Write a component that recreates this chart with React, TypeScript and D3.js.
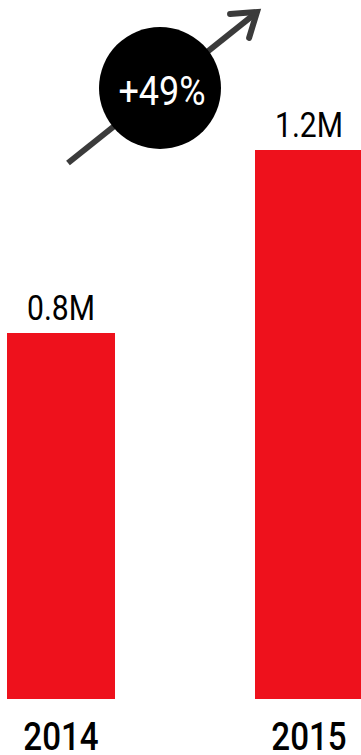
import React from "react";
import * as d3 from "d3";

const years = ["2014", "2015"];
const values = [0.8, 1.2];
const growthLabel = "+49%";

const W = 361;
const H = 755;

function CText(props: {
  x: number;
  y: number;
  sx: number;
  size: number;
  weight?: number | string;
  fill: string;
  children: React.ReactNode;
}) {
  return (
    <text
      transform={`translate(${props.x},${props.y}) scale(${props.sx},1)`}
      textAnchor="middle"
      fontSize={props.size}
      fontWeight={props.weight ?? 400}
      fill={props.fill}
    >
      {props.children}
    </text>
  );
}

export default function App() {
  const x = d3
    .scaleBand<string>()
    .domain(years)
    .range([7, 363])
    .paddingInner(0.5645)
    .paddingOuter(0);
  const y = d3.scaleLinear().domain([0, 1.2]).range([699, 150]);
  const fmt = (v: number) => d3.format(".1f")(v) + "M";

  const font = "Roboto, 'Liberation Sans', sans-serif";

  const arrowStart: [number, number] = [68, 163];
  const arrowEnd: [number, number] = [257, 12];
  const ang = Math.atan2(arrowEnd[1] - arrowStart[1], arrowEnd[0] - arrowStart[0]);
  const headLen = 27;
  const wing = (off: number): [number, number] => [
    arrowEnd[0] - headLen * Math.cos(ang + off),
    arrowEnd[1] - headLen * Math.sin(ang + off),
  ];
  const w1 = wing(0.6);
  const w2 = wing(-0.6);
  const line = d3.line();

  return (
    <svg
      width={W}
      height={H}
      style={{ position: "absolute", left: 0, top: 0, background: "#fff" }}
      fontFamily={font}
    >
      {years.map((yr, i) => (
        <g key={yr}>
          <rect
            x={x(yr)!}
            y={y(values[i])}
            width={x.bandwidth()}
            height={y(0) - y(values[i])}
            fill="#EE111C"
          />
          <CText
            x={x(yr)! + x.bandwidth() / 2}
            y={y(values[i]) - 13}
            sx={0.86}
            size={35}
            fill="#000"
          >
            {fmt(values[i])}
          </CText>
          <CText
            x={x(yr)! + x.bandwidth() / 2}
            y={750}
            sx={0.85}
            size={39}
            weight={500}
            fill="#000"
          >
            {yr}
          </CText>
        </g>
      ))}
      <path
        d={line([arrowStart, arrowEnd])!}
        stroke="#3b3b3b"
        strokeWidth={6}
        fill="none"
      />
      <path
        d={line([w1, arrowEnd, w2])!}
        stroke="#3b3b3b"
        strokeWidth={6}
        strokeLinecap="round"
        strokeLinejoin="miter"
        fill="none"
      />
      <circle cx={160} cy={88} r={61} fill="#000" />
      <CText x={162} y={105} sx={0.9} size={40} fill="#fff">
        {growthLabel}
      </CText>
    </svg>
  );
}
